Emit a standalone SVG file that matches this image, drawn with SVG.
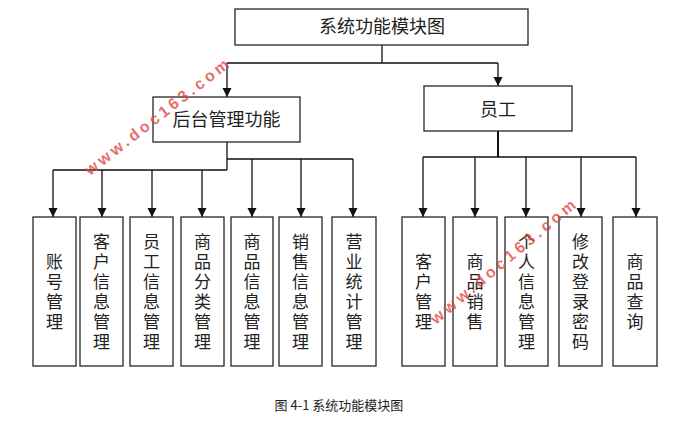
<svg xmlns="http://www.w3.org/2000/svg" width="694" height="440" viewBox="0 0 694 440">
<style>
.box{fill:#fff;stroke:#262626;stroke-width:1.3}
.ln{fill:none;stroke:#111;stroke-width:1.3}
.t{font-family:"Noto Sans CJK SC","Noto Sans",sans-serif;fill:#222;text-anchor:middle}
.h{font-size:18px}
.v{font-size:17px;writing-mode:vertical-rl;text-orientation:upright;letter-spacing:3px}
.cap{font-family:"Noto Sans CJK SC","Noto Sans",sans-serif;font-size:13px;fill:#222;text-anchor:middle}
.wm{font-family:"Liberation Sans",Arial,sans-serif;font-size:16px;font-weight:bold;fill:#e0483f;fill-opacity:0.8}
</style>
<defs>
<marker id="ah" markerUnits="userSpaceOnUse" markerWidth="10" markerHeight="10" refX="9" refY="5" orient="auto">
<path d="M0,0.5 L9,5 L0,9.5 z" fill="#111"/>
</marker>
</defs>
<rect width="694" height="440" fill="#fff"/>

<g id="connectors">
<path class="ln" d="M382,45 V63 M227,63 H498"/>
<path class="ln" d="M227,63 V97" marker-end="url(#ah)"/>
<path class="ln" d="M498,63 V86" marker-end="url(#ah)"/>
<path class="ln" d="M227,142 V170 M53,170 H227 M227,159 H353"/>
<path class="ln" d="M53,170 V217" marker-end="url(#ah)"/>
<path class="ln" d="M102,170 V217" marker-end="url(#ah)"/>
<path class="ln" d="M152,170 V217" marker-end="url(#ah)"/>
<path class="ln" d="M202,170 V217" marker-end="url(#ah)"/>
<path class="ln" d="M252,159 V217" marker-end="url(#ah)"/>
<path class="ln" d="M301,159 V217" marker-end="url(#ah)"/>
<path class="ln" d="M353,159 V217" marker-end="url(#ah)"/>
<path class="ln" d="M498,131 V157" style="stroke-width:2"/>
<path class="ln" d="M423,157 H636"/>
<path class="ln" d="M423,157 V217" marker-end="url(#ah)"/>
<path class="ln" d="M475,157 V217" marker-end="url(#ah)"/>
<path class="ln" d="M526,157 V217" marker-end="url(#ah)"/>
<path class="ln" d="M581,157 V217" marker-end="url(#ah)"/>
<path class="ln" d="M636,157 V217" marker-end="url(#ah)"/>
</g>

<g id="root">
<rect class="box" x="235" y="9" width="293" height="36"/>
<text class="t h" x="382" y="33">系统功能模块图</text>
</g>
<g id="admin">
<rect class="box" x="153" y="97" width="147" height="45"/>
<text class="t h" x="226.5" y="126">后台管理功能</text>
</g>
<g id="staff">
<rect class="box" x="424" y="86" width="148" height="45"/>
<text class="t h" x="498" y="116">员工</text>
</g>

<g id="n-zhanghao">
<rect class="box" x="33" y="217" width="43" height="149"/>
<text class="t v" x="54.5" y="293">账号管理</text>
</g>
<g id="n-kehuxinxi">
<rect class="box" x="80" y="217" width="43" height="149"/>
<text class="t v" x="101.5" y="293">客户信息管理</text>
</g>
<g id="n-yuangongxinxi">
<rect class="box" x="130" y="217" width="43" height="149"/>
<text class="t v" x="151.5" y="293">员工信息管理</text>
</g>
<g id="n-shangpinfenlei">
<rect class="box" x="181" y="217" width="43" height="149"/>
<text class="t v" x="202.5" y="293">商品分类管理</text>
</g>
<g id="n-shangpinxinxi">
<rect class="box" x="231" y="217" width="42" height="149"/>
<text class="t v" x="252" y="293">商品信息管理</text>
</g>
<g id="n-xiaoshouxinxi">
<rect class="box" x="279" y="217" width="43" height="149"/>
<text class="t v" x="300.5" y="293">销售信息管理</text>
</g>
<g id="n-yingyetongji">
<rect class="box" x="332" y="217" width="44" height="149"/>
<text class="t v" x="354" y="293">营业统计管理</text>
</g>

<g id="n-kehuguanli">
<rect class="box" x="402" y="217" width="43" height="149"/>
<text class="t v" x="423.5" y="293">客户管理</text>
</g>
<g id="n-shangpinxiaoshou">
<rect class="box" x="453" y="217" width="44" height="149"/>
<text class="t v" x="475" y="293">商品销售</text>
</g>
<g id="n-gerenxinxi">
<rect class="box" x="505" y="217" width="43" height="149"/>
<text class="t v" x="526.5" y="293">个人信息管理</text>
</g>
<g id="n-xiugaimima">
<rect class="box" x="559" y="217" width="43" height="149"/>
<text class="t v" x="580.5" y="293">修改登录密码</text>
</g>
<g id="n-shangpinchaxun">
<rect class="box" x="613" y="217" width="44" height="149"/>
<text class="t v" x="635" y="293">商品查询</text>
</g>

<text class="cap" x="339" y="410">图 4-1 系统功能模块图</text>

<text class="wm" x="0" y="0" transform="translate(90,176) rotate(-38)" textLength="178" lengthAdjust="spacing">www.doc163.com</text>
<text class="wm" x="0" y="0" transform="translate(436,325) rotate(-40)" textLength="184" lengthAdjust="spacing">www.doc163.com</text>
</svg>
